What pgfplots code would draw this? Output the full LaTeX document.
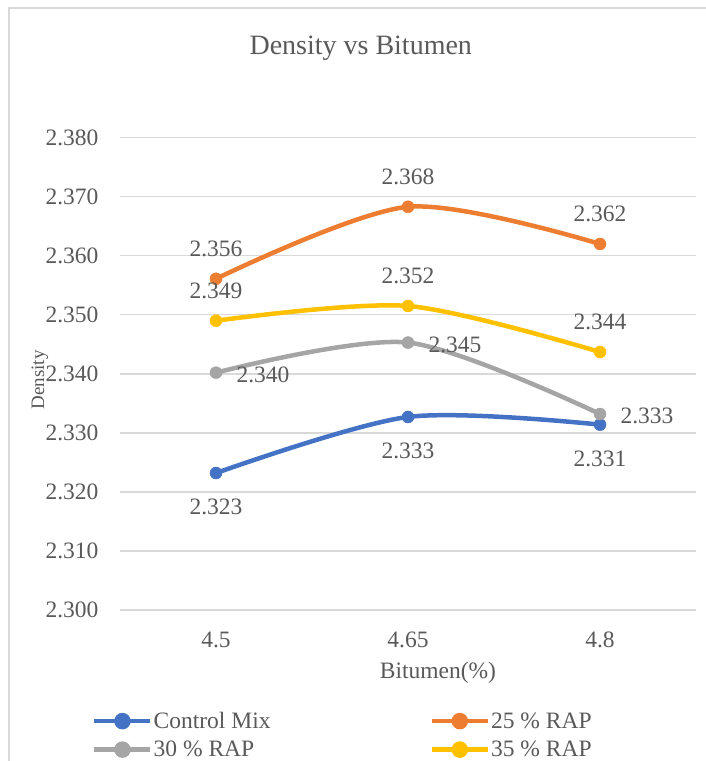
\documentclass[border=0pt]{standalone}
\usepackage{pgfplots}
\pgfplotsset{compat=1.18}
\usepackage{fontspec}
\setmainfont{Liberation Serif}
\definecolor{cblue}{HTML}{4472C4}
\definecolor{corange}{HTML}{ED7D31}
\definecolor{cgray}{HTML}{A5A5A5}
\definecolor{cgold}{HTML}{FFC000}
\definecolor{txt}{HTML}{595959}
\definecolor{gridc}{HTML}{D9D9D9}
\begin{document}
\begin{tikzpicture}[x=1pt,y=1pt]
\path[use as bounding box] (0,0) rectangle (706,-761);
\draw[gridc, line width=1.5pt] (9,-761) -- (9,-8) -- (706,-8);
\begin{axis}[
  at={(120pt,-610pt)}, anchor=south west,
  scale only axis, width=576pt, height=472.3pt,
  xmin=-0.5, xmax=2.5, ymin=2.3, ymax=2.38,
  xtick={0,1,2}, xticklabels={4.5,4.65,4.8},
  ytick={2.30,2.31,2.32,2.33,2.34,2.35,2.36,2.37,2.38},
  scaled y ticks=false,
  /pgf/number format/assume math mode=true,
  yticklabel style={/pgf/number format/fixed, /pgf/number format/fixed zerofill, /pgf/number format/precision=3},
  axis lines*=left, axis line style={draw=none},
  major tick length=0pt, tick style={draw=none},
  ymajorgrids, major grid style={gridc, line width=1.3pt},
  clip=false,
  tick label style={font=\fontsize{23.5}{28}\selectfont, text=txt},
  xticklabel style={anchor=center, yshift=-30pt},
  yticklabel style={anchor=center, xshift=-48pt},
  title={Density vs Bitumen},
  title style={at={(0.418,1.176)}, anchor=center, font=\fontsize{28}{32}\selectfont, text=txt},
  xlabel={Bitumen(\%)},
  xlabel style={at={(0.552,-0.134)}, anchor=center, font=\fontsize{23.5}{28}\selectfont, text=txt},
  ylabel={Density},
  ylabel style={at={(-0.139,0.487)}, anchor=center, font=\fontsize{19}{22}\selectfont, text=txt},
  point meta=y,
  nodes near coords={\pgfmathprintnumber[fixed,fixed zerofill,precision=3]{\pgfplotspointmeta}},
  nodes near coords style={text=txt, font=\fontsize{23.5}{28}\selectfont},
  legend style={at={(-0.0486,-0.2139)}, anchor=north west, draw=none, fill=none,
    font=\fontsize{23.5}{28}\selectfont, text=txt, inner sep=0pt, nodes={inner sep=1pt},
    /tikz/every even column/.append style={column sep=158pt}, row sep=9pt},
  legend columns=2,
  legend cell align=left,
  legend image code/.code={\draw[line width=4.5pt] (0pt,0pt) -- (56pt,0pt); \fill (28pt,0pt) circle (6pt);},
]
\addplot[color=cblue, line width=4.5pt, smooth, mark=*, mark size=6pt, mark options={solid, line width=0.5pt},
  nodes near coords style={anchor=center, yshift=-34pt}]
  coordinates {(0,2.3232) (1,2.3327) (2,2.3314)};
\addlegendentry{Control Mix}
\addplot[color=corange, line width=4.5pt, smooth, mark=*, mark size=6pt, mark options={solid, line width=0.5pt},
  nodes near coords style={anchor=center, yshift=30pt}]
  coordinates {(0,2.3561) (1,2.3683) (2,2.3620)};
\addlegendentry{25 \% RAP}
\addplot[color=cgray, line width=4.5pt, smooth, mark=*, mark size=6pt, mark options={solid, line width=0.5pt},
  nodes near coords style={anchor=west, xshift=17pt, yshift=-2pt}]
  coordinates {(0,2.3402) (1,2.3453) (2,2.3332)};
\addlegendentry{30 \% RAP}
\addplot[color=cgold, line width=4.5pt, smooth, mark=*, mark size=6pt, mark options={solid, line width=0.5pt},
  nodes near coords style={anchor=center, yshift=30pt}]
  coordinates {(0,2.3490) (1,2.3515) (2,2.3437)};
\addlegendentry{35 \% RAP}
\end{axis}
\end{tikzpicture}
\end{document}
